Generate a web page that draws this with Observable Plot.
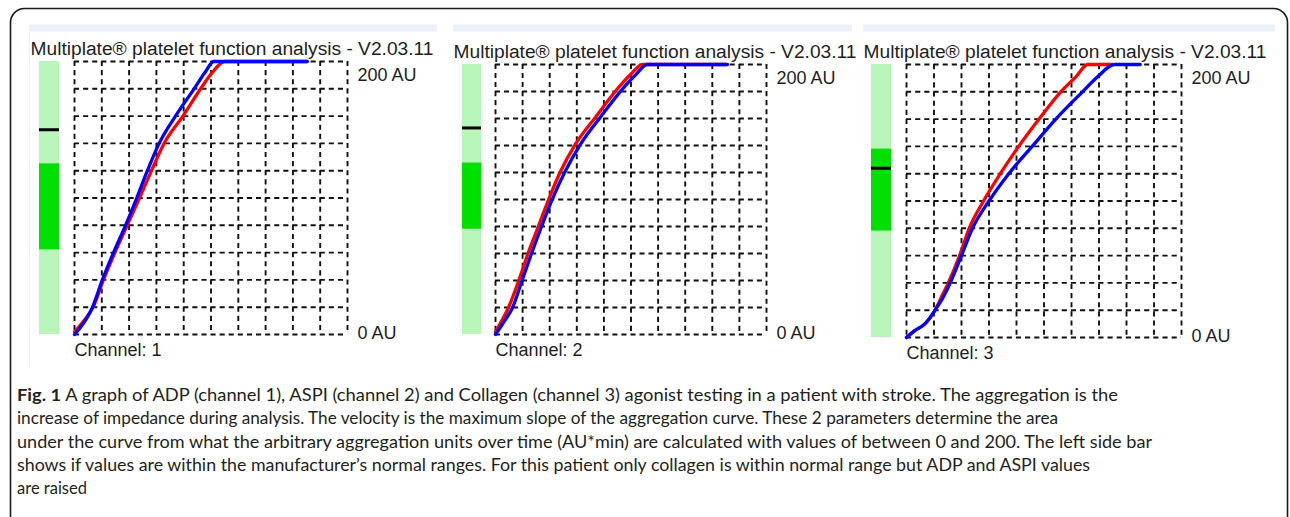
<!DOCTYPE html>
<html>
<head>
<meta charset="utf-8">
<script src="https://cdn.jsdelivr.net/npm/d3@7"></script>
<script src="https://cdn.jsdelivr.net/npm/@observablehq/plot@0.6"></script>
<style>
  html, body { margin: 0; padding: 0; background: #fff; }
  #wrap { position: relative; width: 1290px; height: 517px; overflow: hidden; background: #fff; }
  #wrap > svg { position: absolute; }
</style>
</head>
<body>
<div id="wrap"></div>
<script>
// ---------------- data ----------------
const panelTitle = "Multiplate® platelet function analysis - V2.03.11";
const channels = ["Channel: 1", "Channel: 2", "Channel: 3"];
const yTicks = [0, 200];
const yUnit = "AU";
const xGridTicks = [0, 1, 2, 3, 4, 5, 6, 7, 8, 9, 10];
const yGridTicks = [0, 20, 40, 60, 80, 100, 120, 140, 160, 180, 200];

// manufacturer normal range (AU) and patient's result marker per channel
const normalLow = [62, 78, 78];
const normalHigh = [125, 127, 138];
const resultMarker = [150, 153, 124];

// aggregation curves: t in grid divisions, au = aggregation units
const ch1RedT  = [0, 0.3, 0.68, 1.06, 1.48, 1.93, 2.38, 2.82, 3.28, 3.97, 4.62, 5.05, 5.5, 8.5];
const ch1RedAU = [2, 9, 20, 40, 60, 80, 100, 120, 140, 160, 180, 192, 200, 200];
const ch1BlueT  = [0, 0.25, 0.45, 0.66, 1.02, 1.43, 1.87, 2.28, 2.67, 3.1, 3.7, 4.38, 4.78, 5.1, 8.53];
const ch1BlueAU = [0, 6, 12, 20, 40, 60, 80, 100, 120, 140, 160, 180, 192, 200, 200];

const ch2RedT  = [0, 0.2, 0.48, 0.86, 1.2, 1.58, 1.96, 2.38, 2.95, 3.69, 4.5, 5.0, 5.42, 8.5];
const ch2RedAU = [2, 9, 20, 40, 60, 80, 100, 120, 141, 161, 182, 193, 200, 200];
const ch2BlueT  = [0, 0.3, 0.63, 0.98, 1.33, 1.7, 2.07, 2.55, 3.14, 3.87, 4.69, 5.2, 5.6, 8.56];
const ch2BlueAU = [0, 9, 20, 40, 60, 80, 99, 120, 141, 161, 182, 193, 200, 200];

const ch3RedT  = [0, 0.3, 0.67, 1.04, 1.28, 1.52, 1.93, 2.28, 2.8, 3.41, 4.08, 4.82, 5.61, 6.16, 6.59, 7.5];
const ch3RedAU = [0, 5, 10, 20, 30, 40, 60, 80, 100, 120, 140, 160, 180, 191, 200, 200];
const ch3BlueT  = [0, 0.3, 0.67, 1.04, 1.35, 1.59, 2.0, 2.4, 3.0, 3.72, 4.57, 5.43, 6.4, 6.95, 7.56, 8.5];
const ch3BlueAU = [0, 5, 10, 20, 30, 40, 60, 80, 100, 120, 140, 160, 180, 191, 200, 200];

const captionBold = "Fig. 1";
const captionLines = [
  " A graph of ADP (channel 1), ASPI (channel 2) and Collagen (channel 3) agonist testing in a patient with stroke. The aggregation is the",
  "increase of impedance during analysis. The velocity is the maximum slope of the aggregation curve. These 2 parameters determine the area",
  "under the curve from what the arbitrary aggregation units over time (AU*min) are calculated with values of between 0 and 200. The left side bar",
  "shows if values are within the manufacturer’s normal ranges. For this patient only collagen is within normal range but ADP and ASPI values",
  "are raised"
];

// ---------------- layout (pixels) ----------------
const zip = (T, A) => T.map((t, i) => ({t, au: A[i]}));
const curves = [
  {red: zip(ch1RedT, ch1RedAU), blue: zip(ch1BlueT, ch1BlueAU)},
  {red: zip(ch2RedT, ch2RedAU), blue: zip(ch2BlueT, ch2BlueAU)},
  {red: zip(ch3RedT, ch3RedAU), blue: zip(ch3BlueT, ch3BlueAU)}
];
const layout = [
  {left: 28,  grid: [74, 347, 61, 334],  barL: -35, barR: -15, titleDx: -44, strip: [29, 437]},
  {left: 451, grid: [495, 766, 64, 334], barL: -33, barR: -14, titleDx: -42, strip: [453, 852]},
  {left: 861, grid: [906, 1181, 64, 337], barL: -35, barR: -15, titleDx: -43, strip: [863, 1275]}
];
const PW = 415, PH = 355, PTOP = 20;
const panelFont = "'Liberation Sans', Arial, sans-serif";
const wrap = document.getElementById("wrap");

// background decoration: outer frame, title strips, caption
const bg = d3.select(wrap).append("svg")
  .attr("width", 1290).attr("height", 517)
  .style("left", "0px").style("top", "0px");
bg.append("rect")
  .attr("x", 10.5).attr("y", 8.5).attr("width", 1277).attr("height", 540)
  .attr("rx", 14).attr("fill", "none").attr("stroke", "#1a1a1a").attr("stroke-width", 1.6);
layout.forEach((c) => {
  bg.append("rect").attr("x", c.strip[0]).attr("y", 24.5).attr("width", c.strip[1] - c.strip[0])
    .attr("height", 7).attr("fill", "#ebf0f9");
});
bg.append("line").attr("x1", 29.5).attr("x2", 29.5).attr("y1", 32).attr("y2", 367)
  .attr("stroke", "#eef1f8").attr("stroke-width", 1);

const capBaselines = [401, 424, 448, 471, 494];
const capWidths = [1101, 1041, 1135, 1073, 70];
captionLines.forEach((line, i) => {
  const t = bg.append("text")
    .attr("x", 17).attr("y", capBaselines[i])
    .attr("font-family", "Lato, 'Open Sans', sans-serif")
    .attr("font-size", 17.5).attr("fill", "#231f20")
    .attr("textLength", capWidths[i]).attr("lengthAdjust", "spacingAndGlyphs");
  if (i === 0) t.append("tspan").attr("font-weight", 700).text(captionBold);
  t.append("tspan").text(line);
});

// ---------------- panels ----------------
layout.forEach((c, i) => {
  const [gx0, gx1, gyTop, gyBot] = c.grid;
  const period = (gx1 - gx0) / 30;
  const dash = `${(period * 0.56).toFixed(2)},${(period * 0.44).toFixed(2)}`;
  const gridStyle = {stroke: "#111", strokeWidth: 1.9, strokeDasharray: dash};
  const txt = {fontSize: 18, fill: "#1e1e1e", fontFamily: panelFont};
  const chart = Plot.plot({
    width: PW, height: PH,
    marginLeft: gx0 - c.left,
    marginRight: c.left + PW - gx1,
    marginTop: gyTop - PTOP,
    marginBottom: PTOP + PH - gyBot,
    x: {domain: [0, 10], axis: null},
    y: {domain: [0, 200], axis: null},
    style: {background: "transparent", fontFamily: panelFont, overflow: "visible"},
    marks: [
      // normal-range side bar
      Plot.rect([{lo: yTicks[0], hi: yTicks[1]}], {x1: 0, x2: 0, y1: "lo", y2: "hi",
        fill: "#b8f5b8", insetLeft: c.barL, insetRight: -c.barR}),
      Plot.rect([{lo: normalLow[i], hi: normalHigh[i]}], {x1: 0, x2: 0, y1: "lo", y2: "hi",
        fill: "#00e000", insetLeft: c.barL, insetRight: -c.barR}),
      Plot.ruleY([resultMarker[i]], {x1: 0, x2: 0, insetLeft: c.barL, insetRight: -c.barR,
        stroke: "#000", strokeWidth: 3}),
      // dashed grid
      Plot.ruleX(xGridTicks, gridStyle),
      Plot.ruleY(yGridTicks, gridStyle),
      // curves
      Plot.line(curves[i].red, {x: "t", y: "au", stroke: "#ff0000", strokeWidth: 3.3, curve: "monotone-x"}),
      Plot.line(curves[i].blue, {x: "t", y: "au", stroke: "#0000ff", strokeWidth: 3.3, curve: "monotone-x"}),
      // labels
      Plot.text([yTicks[1]], {y: d => d, frameAnchor: "right", text: d => `${d} ${yUnit}`,
        textAnchor: "start", dx: 10, dy: 14, ...txt}),
      Plot.text([yTicks[0]], {y: d => d, frameAnchor: "right", text: d => `${d} ${yUnit}`,
        textAnchor: "start", dx: 10, dy: -1, ...txt}),
      Plot.text([channels[i]], {frameAnchor: "bottom-left", textAnchor: "start", dy: 21, ...txt}),
      Plot.text([panelTitle], {frameAnchor: "top-left", textAnchor: "start", dx: c.titleDx, dy: -19, ...txt})
    ]
  });
  chart.style.position = "absolute";
  chart.style.left = c.left + "px";
  chart.style.top = PTOP + "px";
  chart.style.maxWidth = "none";
  wrap.appendChild(chart);
  d3.select(chart).selectAll("text")
    .filter(function () { return this.textContent === panelTitle; })
    .attr("textLength", 403).attr("lengthAdjust", "spacingAndGlyphs");
});
</script>
</body>
</html>
